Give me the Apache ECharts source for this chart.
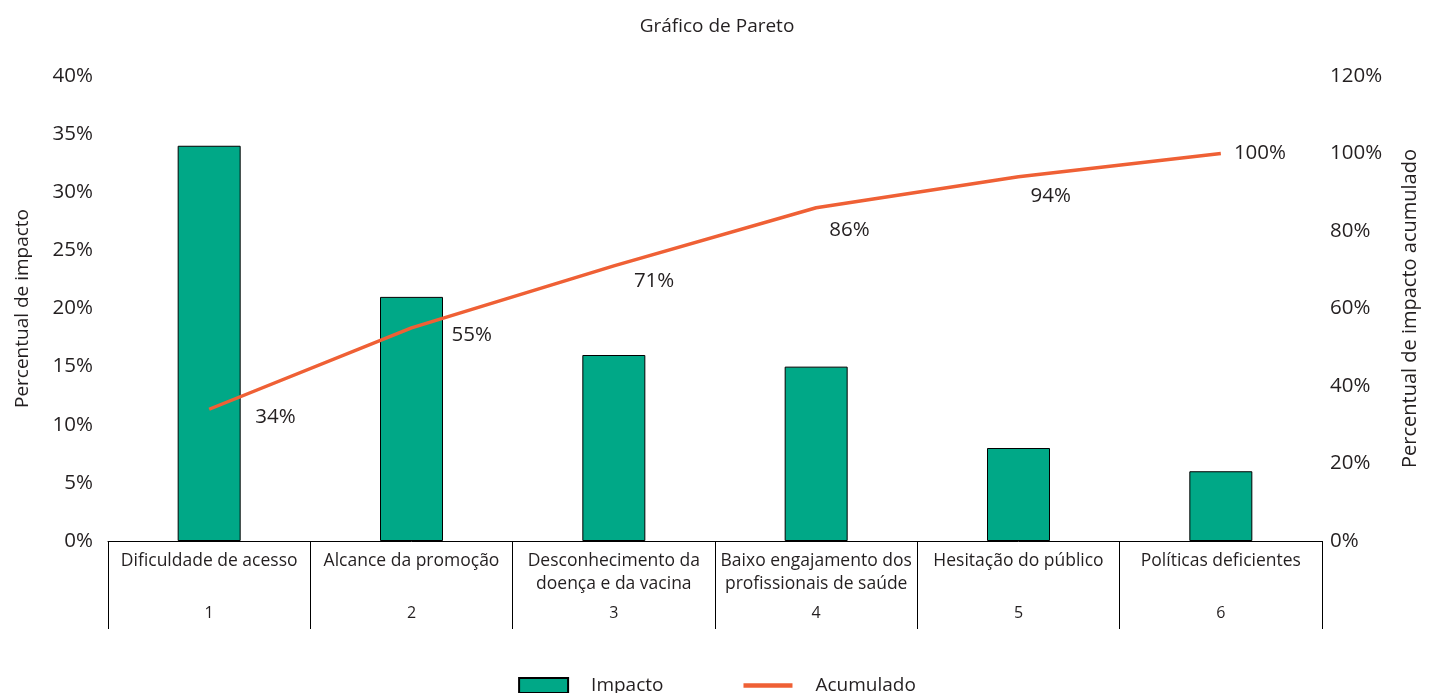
<!DOCTYPE html>
<html>
<head>
<meta charset="utf-8">
<script src="https://cdn.jsdelivr.net/npm/echarts@6/dist/echarts.min.js"></script>
<style>html,body{margin:0;padding:0;background:#fff}#c{width:1434px;height:693px}</style>
</head>
<body>
<div id="c"></div>
<script>
const categories = ["Dificuldade de acesso", "Alcance da promoção", "Desconhecimento da\ndoença e da vacina", "Baixo engajamento dos\nprofissionais de saúde", "Hesitação do público", "Políticas deficientes"];
const categoryNumbers = ["1", "2", "3", "4", "5", "6"];
const impacto = [34, 21, 16, 15, 8, 6];
const acumulado = [34, 55, 71, 86, 94, 100];
const labelOffsets = [[41, 8], [35, 7], [15, 15], [8, 22], [7, 19], [8, 0]];

const FONT = 'Open Sans';
const TXT = '#231f20';
const chart = echarts.init(document.getElementById('c'));
chart.setOption({
  animation: false,
  textStyle: { fontFamily: FONT, color: TXT },
  title: { text: 'Gráfico de Pareto', left: 'center', top: 12, textStyle: { fontFamily: FONT, fontWeight: 'normal', fontSize: 19, color: TXT } },
  grid: { left: 108, right: 112, top: 76, bottom: 152 },
  legend: {
    bottom: -7, left: 'center', itemWidth: 49, itemHeight: 15, itemGap: 80,
    textStyle: { fontFamily: FONT, fontSize: 19, color: TXT, padding: [0, 0, 0, 18] },
    data: [{ name: 'Impacto', icon: 'rect' },
           { name: 'Acumulado', icon: 'path://M0,0 L42,0 L42,4 L0,4 Z', itemStyle: { color: '#ef6035', borderWidth: 0 } }]
  },
  xAxis: [{
    type: 'category', data: categories,
    axisLine: { show: true, lineStyle: { color: '#000', width: 1 } },
    axisTick: { show: true, length: 88, lineStyle: { color: '#000', width: 1 } },
    axisLabel: { interval: 0, margin: 9, fontSize: 17.5, lineHeight: 23, color: TXT, fontFamily: FONT }
  }, {
    type: 'category', data: categoryNumbers, position: 'bottom',
    axisLine: { show: false }, axisTick: { show: false },
    axisLabel: { interval: 0, margin: 64, fontSize: 16, color: TXT, fontFamily: FONT }
  }],
  yAxis: [{
    type: 'value', min: 0, max: 40, interval: 5,
    name: 'Percentual de impacto', nameLocation: 'middle', nameRotate: 90, nameGap: 76,
    nameTextStyle: { fontSize: 19, color: TXT, fontFamily: FONT },
    axisLine: { show: false }, axisTick: { show: false }, splitLine: { show: false },
    axisLabel: { formatter: '{value}%', fontSize: 20.5, margin: 15, color: TXT, fontFamily: FONT }
  }, {
    type: 'value', min: 0, max: 120, interval: 20,
    name: 'Percentual de impacto acumulado', nameLocation: 'middle', nameRotate: 90, nameGap: 78,
    nameTextStyle: { fontSize: 20, color: TXT, fontFamily: FONT },
    axisLine: { show: false }, axisTick: { show: false }, splitLine: { show: false },
    axisLabel: { formatter: '{value}%', fontSize: 20.5, margin: 8, color: TXT, fontFamily: FONT }
  }],
  series: [{
    name: 'Impacto', type: 'bar', data: impacto, barWidth: 63,
    itemStyle: { color: '#00a887', borderColor: '#000', borderWidth: 1 }
  }, {
    name: 'Acumulado', type: 'line', yAxisIndex: 1, symbol: 'circle', symbolSize: 0.1, showSymbol: true,
    lineStyle: { color: '#ef6035', width: 3.5 }, itemStyle: { color: '#ef6035' },
    label: { show: true, position: 'right', formatter: '{c}%', fontSize: 20.5, color: TXT, fontFamily: FONT },
    data: acumulado.map((v, i) => ({ value: v, label: { offset: labelOffsets[i] } }))
  }]
});
</script>
</body>
</html>
